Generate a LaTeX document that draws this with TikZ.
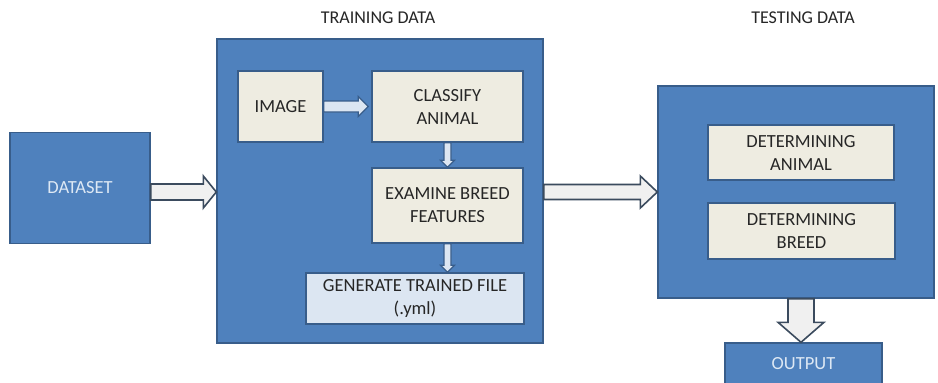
\documentclass[tikz,border=0pt]{standalone}
\usepackage{fontspec}
\setmainfont{Carlito}
\usetikzlibrary{calc}
\definecolor{bfill}{HTML}{4F81BD}
\definecolor{bdraw}{HTML}{385D8A}
\definecolor{beige}{HTML}{EEECE1}
\definecolor{lblue}{HTML}{DCE6F2}
\definecolor{wtext}{HTML}{DDE8F4}
\definecolor{dtext}{HTML}{262626}
\definecolor{afill}{HTML}{F0F0F0}
\definecolor{adraw}{HTML}{3B4B5E}
\newcommand{\harr}[6][bigarrow]{%
  \draw[#1] ($(#2)+(0,#4)$) -- ($(#3)+(-#6,#4)$) -- ($(#3)+(-#6,#5)$) -- (#3)
    -- ($(#3)+(-#6,-#5)$) -- ($(#3)+(-#6,-#4)$) -- ($(#2)+(0,-#4)$) -- cycle;}
\newcommand{\varr}[6][bigarrow]{%
  \draw[#1] ($(#2)+(#4,0)$) -- ($(#3)+(#4,-#6)$) -- ($(#3)+(#5,-#6)$) -- (#3)
    -- ($(#3)+(-#5,-#6)$) -- ($(#3)+(-#4,-#6)$) -- ($(#2)+(-#4,0)$) -- cycle;}
\tikzset{
  bluebox/.style={draw=bdraw, fill=bfill, line width=1.4pt, inner sep=0pt, text=wtext,
    font=\fontsize{18.5}{22}\selectfont, align=center},
  beigebox/.style={draw=bdraw, fill=beige, line width=1.4pt, inner sep=0pt, text=dtext,
    font=\fontsize{18.5}{23}\selectfont, align=center},
  genbox/.style={beigebox, fill=lblue},
  title/.style={text=dtext, font=\fontsize{18}{21}\selectfont},
  bigarrow/.style={draw=adraw, fill=afill, line width=1.6pt, line join=miter},
  smallarrow/.style={draw=bdraw, fill=lblue, line width=1.2pt, line join=miter},
}
\begin{document}
\begin{tikzpicture}[x=1pt, y=-1pt]
\useasboundingbox[fill=white] (0,0) rectangle (938,383);
% titles
\node[title] (ttrain) at (378,18) {TRAINING DATA};
\node[title] (ttest) at (803,18) {TESTING DATA};
% big boxes
\node[bluebox, minimum width=140pt, minimum height=111pt] (dataset) at (80,188) {DATASET};
\node[bluebox, minimum width=326pt, minimum height=304pt] (train) at (380,191) {};
\node[bluebox, minimum width=276pt, minimum height=212pt] (test) at (796,192) {};
\node[bluebox, minimum width=157pt, minimum height=42pt] (output) at (803.5,364) {OUTPUT};
% inner boxes
\node[beigebox, minimum width=85pt, minimum height=71pt] (image) at (280.5,106.5) {IMAGE};
\node[beigebox, minimum width=151pt, minimum height=71pt] (classify) at (447.5,106.5) {CLASSIFY\\ANIMAL};
\node[beigebox, minimum width=151pt, minimum height=75pt] (examine) at (447.5,205.5) {EXAMINE BREED\\FEATURES};
\node[genbox, minimum width=218pt, minimum height=51pt] (generate) at (415,298.5) {GENERATE TRAINED FILE\\(.yml)};
\node[beigebox, minimum width=186pt, minimum height=55pt] (detanimal) at (801,152.5) {DETERMINING\\ANIMAL};
\node[beigebox, minimum width=187pt, minimum height=56pt] (detbreed) at (801.5,231) {DETERMINING\\BREED};
% connector end points
\coordinate (a1s) at ($(dataset.east)+(0,4)$);
\coordinate (a1e) at (train.west |- a1s);
\coordinate (a2s) at (train.east |- a1s);
\coordinate (a2e) at (test.west |- a1s);
\coordinate (a3e) at ($(classify.west)+(-3,0)$);
\coordinate (a4s) at (classify.south);
\coordinate (a4e) at (examine.north);
\coordinate (a5s) at (examine.south);
\coordinate (a5e) at (generate.north -| examine.south);
\coordinate (a6s) at ($(test.south)+(5,0)$);
\coordinate (a6e) at (output.north -| a6s);
% arrows
\harr{a1s}{a1e}{8}{16}{13}
\harr{a2s}{a2e}{7.5}{16}{17}
\harr[smallarrow]{image.east}{a3e}{5.5}{10}{10}
\varr[smallarrow]{a4s}{a4e}{3.5}{7}{7}
\varr[smallarrow]{a5s}{a5e}{3.5}{7}{7}
\varr{a6s}{a6e}{13}{23}{20}
\end{tikzpicture}
\end{document}
